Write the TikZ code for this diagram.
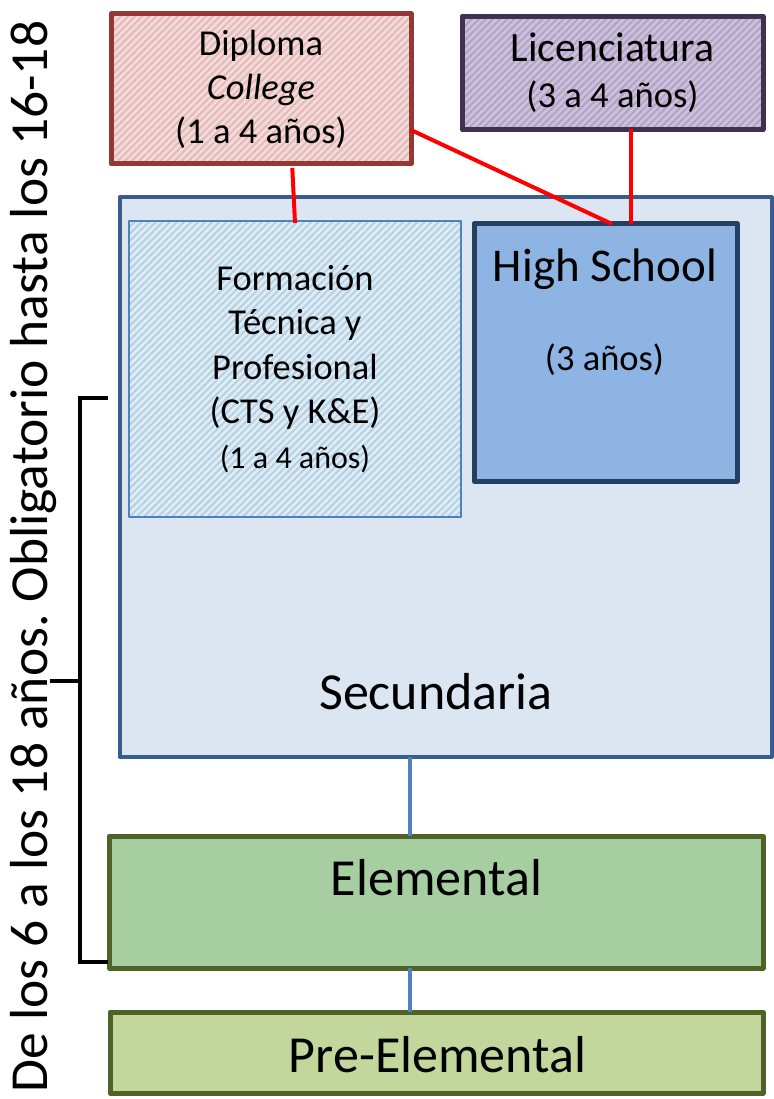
\documentclass[tikz,border=0pt]{standalone}
\usepackage{fontspec}
\setmainfont{Carlito}
\frenchspacing
\usetikzlibrary{patterns.meta}
\definecolor{dipborder}{HTML}{953735}
\definecolor{dipfill}{HTML}{F2DCDB}
\definecolor{dipstripe}{HTML}{E6B9B8}
\definecolor{licborder}{HTML}{403152}
\definecolor{licfill}{HTML}{CCC1DA}
\definecolor{licstripe}{HTML}{B3A2C7}
\definecolor{secborder}{HTML}{385D8A}
\definecolor{secfill}{HTML}{DCE6F2}
\definecolor{formborder}{HTML}{4F81BD}
\definecolor{formfill}{HTML}{DBEEF4}
\definecolor{formstripe}{HTML}{B9CDE5}
\definecolor{hsborder}{HTML}{243F60}
\definecolor{hsfill}{HTML}{8EB4E3}
\definecolor{elemborder}{HTML}{4F6228}
\definecolor{elemfill}{RGB}{166,206,161}
\definecolor{prefill}{HTML}{C3D69B}
\definecolor{bluelink}{HTML}{4F81BD}
\begin{document}
\begin{tikzpicture}[x=1pt,y=-1pt,
  box/.style={draw, rectangle, inner sep=0pt, outer sep=0pt, line join=round, align=center},
  hatchbox/.style n args={2}{box, preaction={fill=#1}, pattern={Lines[angle=45,distance=5pt,line width=2pt]}, pattern color=#2},
  redlink/.style={draw=red, line width=4pt},
  bluelinkst/.style={draw=bluelink, line width=3.5pt},
  bracket/.style={draw=black, line width=4pt},
  txt/.style={inner sep=0pt, outer sep=0pt, anchor=base}
]
\fill[white] (0,0) rectangle (773,1099);
\useasboundingbox (0,0) rectangle (773,1099);

% top boxes
\node[hatchbox={dipfill}{dipstripe}, draw=dipborder, line width=5pt,
      minimum width=300pt, minimum height=150pt,
      font=\fontsize{36.5}{44}\selectfont] (dip) at (261,89)
      {Diploma\\\textit{College}\\(1 a 4 años)};
\node[hatchbox={licfill}{licstripe}, draw=licborder, line width=5pt,
      minimum width=301pt, minimum height=113pt,
      font=\fontsize{36.6}{46}\selectfont] (lic) at (612.5,73)
      {{\fontsize{41.7}{46}\selectfont Licenciatura}\\(3 a 4 años)};

% secundaria
\node[box, draw=secborder, fill=secfill, line width=4pt,
      minimum width=652pt, minimum height=559pt] (sec) at (445.5,477) {};
\node[txt, font=\fontsize{52}{60}\selectfont] (secT) at (436,709) {Secundaria};

\node[hatchbox={formfill}{formstripe}, draw=formborder, line width=1.2pt,
      minimum width=332pt, minimum height=296pt,
      font=\fontsize{36.5}{44.5}\selectfont] (form) at (295,369)
      {Formación\\Técnica y\\Profesional\\(CTS y K\&E)\\{\fontsize{32}{44.5}\selectfont (1 a 4 años)}};

\node[box, draw=hsborder, fill=hsfill, line width=5pt,
      minimum width=263pt, minimum height=257pt] (hs) at (605.5,352.5) {};
\node[txt, font=\fontsize{47}{52}\selectfont] (hsT) at (605,281) {High School};
\node[txt, font=\fontsize{36.5}{44}\selectfont] (hsY) at (604.5,370) {(3 años)};

% lower boxes
\node[box, draw=elemborder, fill=elemfill, line width=5pt,
      minimum width=654pt, minimum height=132pt] (elem) at (436,902) {};
\node[txt, font=\fontsize{52}{60}\selectfont] (elemT) at (436.5,895) {Elemental};
\node[box, draw=elemborder, fill=prefill, line width=5pt,
      minimum width=653pt, minimum height=81pt] (pre) at (436.5,1052.5) {};
\node[txt, font=\fontsize{52}{60}\selectfont] (preT) at (437.5,1072) {Pre-Elemental};

% red links
\draw[redlink, shorten <=6pt] ([xshift=31pt,yshift=2pt]dip.south) -- ([yshift=-2pt]form.north);
\draw[redlink] ([yshift=-41pt]dip.east) -- ([xshift=6.5pt]hs.north);
\draw[redlink] ([xshift=18.5pt]lic.south) -- ([xshift=25.5pt]hs.north);

% blue links
\draw[bluelinkst] ([xshift=-35.5pt]sec.south) -- ([xshift=-26pt]elem.north);
\draw[bluelinkst] ([xshift=-26pt]elem.south) -- ([xshift=-26.5pt]pre.north);

% bracket
\coordinate (bTop) at (108,398);
\coordinate (bBot) at (108,962);
\coordinate (bMidL) at (50,681);
\coordinate (bMidR) at (80,681);
\draw[bracket] (bTop) -- (80,398) -- (80,962) -- (bBot);
\draw[bracket] (bMidL) -- (bMidR);

% side text
\node[txt, rotate=90, font=\fontsize{53.5}{60}\selectfont] (side) at (47,556.5)
  {De los 6 a los 18 años. Obligatorio hasta los 16-18};
\end{tikzpicture}
\end{document}
